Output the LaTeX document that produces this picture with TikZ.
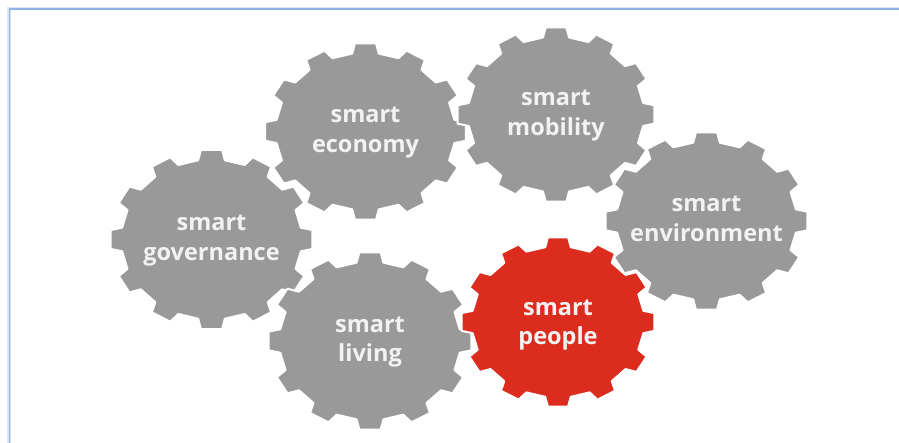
\documentclass[tikz,border=0pt]{standalone}
\usepackage{fontspec}
\setmainfont{Open Sans}
\definecolor{geargray}{HTML}{999999}
\definecolor{gearred}{HTML}{DC2C1E}
\definecolor{framelineblue}{HTML}{8EB2E3}
\definecolor{framehalo}{HTML}{D9E5F5}
\definecolor{geartext}{HTML}{F2F2F2}
\tikzset{
  gearfill/.style={fill=#1, draw=white, line width=2pt, line join=round},
  gearlabel/.style={text=geartext, align=center, font=\fontsize{23.5}{29.5}\selectfont\bfseries},
}
\newcommand{\mygear}[6]{%
  % #1 name, #2 cx, #3 cy, #4 rx, #5 ry, #6 colour
  \begin{scope}[shift={(#2,#3)}, xscale=#4, yscale=#5]
    \fill[gearfill=#6] (-8.5:0.89)
      \foreach \i in {0,...,11}{
        -- ({\i*30-6}:1) -- ({\i*30+6}:1) -- ({\i*30+8.5}:0.89) -- ({\i*30+21.5}:0.89)
      } -- cycle;
  \end{scope}
  \coordinate (#1) at (#2,#3);
}
\begin{document}
\begin{tikzpicture}[x=1pt, y=-1pt]
  \useasboundingbox (0,0) rectangle (899,443);
  % frame
  \draw[framehalo, line width=3.5pt] (9,443) -- (9,8.5) -- (899,8.5);
  \draw[framelineblue, line width=1.6pt] (9.5,443) -- (9.5,9) -- (899,9);
  % gears
  \mygear{gov}{211.5}{239.5}{101.5}{90}{geargray}
  \mygear{eco}{365.5}{131.5}{101}{88.5}{geargray}
  \mygear{mob}{556}{114.5}{99}{87.5}{geargray}
  \mygear{env}{706.5}{221}{101.5}{89}{geargray}
  \mygear{liv}{370}{341}{102}{89}{geargray}
  \mygear{peo}{558}{322}{97}{85}{gearred}
  % labels
  \node[gearlabel] (tgov) at ([yshift=-1]gov) {smart\\governance};
  \node[gearlabel] (teco) at ([yshift=-1]eco) {smart\\economy};
  \node[gearlabel] (tmob) at ([yshift=-1]mob) {smart\\mobility};
  \node[gearlabel] (tenv) at ([yshift=2]env) {smart\\environment};
  \node[gearlabel] (tliv) at ([yshift=-1]liv) {smart\\living};
  \node[gearlabel] (tpeo) at ([yshift=-3]peo) {smart\\people};
\end{tikzpicture}
\end{document}
